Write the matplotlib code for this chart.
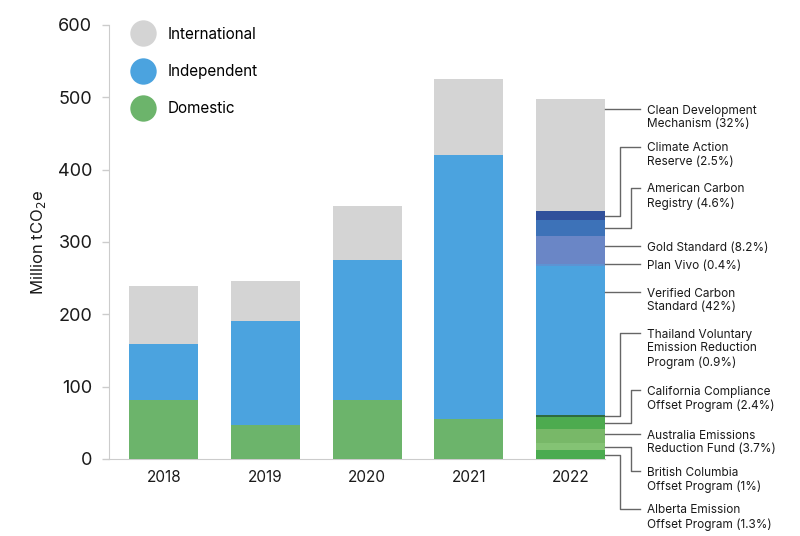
import matplotlib.pyplot as plt
from matplotlib.lines import Line2D

plt.rcParams["font.family"] = ["Inter", "DejaVu Sans"]

# Yearly totals by registry type, million tCO2e (2018-2021)
years = ["2018", "2019", "2020", "2021", "2022"]
domestic = [82, 47, 82, 55]
independent = [77, 144, 193, 365]
international = [80, 55, 75, 105]

# 2022 broken down by registry, bottom to top
registry_labels = [
    "Alberta Emission\nOffset Program (1.3%)",
    "British Columbia\nOffset Program (1%)",
    "Australia Emissions\nReduction Fund (3.7%)",
    "California Compliance\nOffset Program (2.4%)",
    "Thailand Voluntary\nEmission Reduction\nProgram (0.9%)",
    "Verified Carbon\nStandard (42%)",
    "Plan Vivo (0.4%)",
    "Gold Standard (8.2%)",
    "American Carbon\nRegistry (4.6%)",
    "Climate Action\nReserve (2.5%)",
    "Clean Development\nMechanism (32%)",
]
registry_values = [12, 10, 19, 17, 3, 206, 2, 39, 22, 12.5, 155.5]

# Layout / style for the 2022 call-outs
registry_colors = ["#4bab50", "#84c374", "#78b868", "#4dab4f", "#2f6a3f",
                   "#4ba3df", "#5d93d3", "#6a86c6", "#3d72b8", "#31509b", "#d4d4d4"]
label_y = [-69, -17, 34.6, 95.4, 174.2, 230.9, 269.6, 294.5, 374.7, 431.4, 483.9]
elbow_dx = [0.15, 0.26, None, 0.26, 0.15, None, None, None, 0.26, 0.15, None]

GRAY = "#d4d4d4"
BLUE = "#4ba3df"
GREEN = "#6cb46b"
WIDTH = 0.68

fig = plt.figure(figsize=(8, 5.36), dpi=100)
ax = fig.add_axes([0.13625, 0.1437, 0.62, 0.8097])

x = list(range(len(years)))
hist_x = x[:4]
bottom_ind = domestic
bottom_int = [d + i for d, i in zip(domestic, independent)]
ax.bar(hist_x, domestic, WIDTH, color=GREEN, zorder=2)
ax.bar(hist_x, independent, WIDTH, bottom=bottom_ind, color=BLUE, zorder=2)
ax.bar(hist_x, international, WIDTH, bottom=bottom_int, color=GRAY, zorder=2)

# 2022 stacked by registry
edge = x[4] + WIDTH / 2
base = 0
for val, col, lab, ty, dx in zip(registry_values, registry_colors, registry_labels, label_y, elbow_dx):
    ax.bar(x[4], val, WIDTH, bottom=base, color=col, zorder=2)
    mid = base + val / 2
    if dx is None:
        xs, ys = [edge, edge + 0.345], [ty, ty]
    else:
        xs = [edge, edge + dx, edge + dx, edge + 0.345]
        ys = [mid, mid, ty, ty]
    ax.plot(xs, ys, color="#666666", lw=1, clip_on=False, zorder=3)
    ax.annotate(lab, xy=(edge + 0.413, ty), xytext=(0, 3.2), textcoords="offset points",
                fontsize=8.5, va="top", ha="left", color="#1a1a1a",
                linespacing=1.2, annotation_clip=False)
    base += val

ax.set_xlim(-0.54, 4.34)
ax.set_ylim(0, 600)
ax.set_xticks(x)
ax.set_xticklabels(years)
ax.set_yticks(range(0, 601, 100))
ax.tick_params(axis="x", length=0, pad=8, labelsize=11, labelcolor="#1a1a1a")
ax.tick_params(axis="y", length=5, width=1, color="#cccccc", pad=7, labelsize=13, labelcolor="#1a1a1a")
for side in ["top", "right"]:
    ax.spines[side].set_visible(False)
for side in ["left", "bottom"]:
    ax.spines[side].set_color("#cccccc")
ax.spines["bottom"].set_zorder(1)

ax.set_ylabel("Million tCO$_2$e", fontsize=12, color="#1a1a1a")
ax.yaxis.set_label_coords(-0.122, 0.5)

handles = [Line2D([], [], marker="o", ls="", markersize=19, markerfacecolor=c, markeredgecolor="none")
           for c in [GRAY, BLUE, GREEN]]
ax.legend(handles, ["International", "Independent", "Domestic"], loc="upper left",
          bbox_to_anchor=(0.046, 0.996), frameon=False, fontsize=11, borderpad=0,
          borderaxespad=0, handlelength=1.5, handletextpad=0.85, labelspacing=1.45)

fig.savefig("out.png", dpi=100)
